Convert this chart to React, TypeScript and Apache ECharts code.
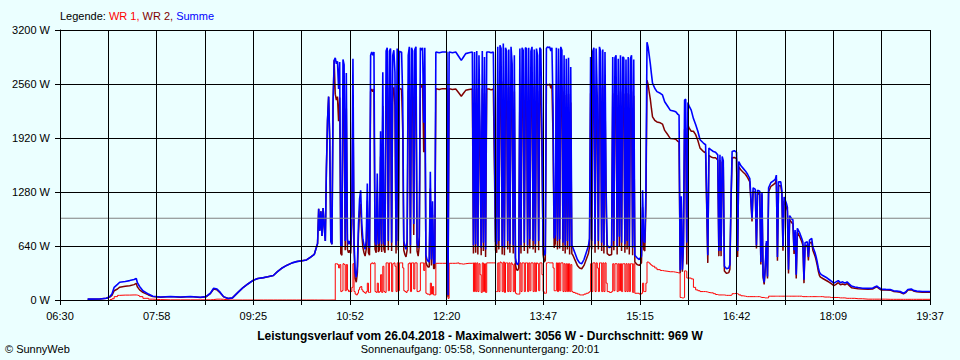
import React, { useEffect, useRef } from "react";
import * as echarts from "echarts";

// ---------- data ----------
const X_LABELS = ["06:30", "07:58", "09:25", "10:52", "12:20", "13:47", "15:15", "16:42", "18:09", "19:37"];
const Y_MAX = 3200;
const Y_STEP = 640;
const START_MIN = 390; // 06:30
const END_MIN = 1177; // 19:37
const TICK_COUNT = 18;
const DATE = "26.04.2018";
const MAX_W = 3056;
const AVG_W = 969;
const SUNRISE = "05:58";
const SUNSET = "20:01";

// minute of day
const TIME_MIN: number[] = [
  415,426,432,435,437,439,442,444,449,453,
  457,459,460,462,465,470,474,481,490,499,
  508,517,522,526,529,532,535,538,542,546,
  551,555,560,565,569,574,578,583,587,591,
  595,600,604,609,613,617,620,623,
  624,625,626,627,628,629,630,631,632,633,
  634,635,636,637,638,639,640,641,642,643,
  644,645,646,647,648,649,650,651,652,653,
  654,655,656,657,658,659,660,661,662,663,
  664,665,666,667,668,669,670,671,672,673,
  674,675,676,677,678,679,680,681,682,683,
  684,685,686,687,688,689,690,691,692,693,
  694,695,696,697,698,699,700,701,702,703,
  704,705,706,707,708,709,710,711,712,713,
  714,715,716,717,718,719,720,721,722,723,
  724,725,726,727,728,729,
  730,733,736,740,741,742,745,748,751,753,
  755,757,760,763,
  764,765,766,767,768,769,770,771,772,773,
  774,775,776,778,780,782,784,785,786,787,
  788,789,790,791,792,793,794,795,796,797,
  798,799,800,801,802,803,804,805,806,807,
  808,809,810,811,812,813,814,815,816,817,
  818,819,820,821,822,823,824,825,826,827,
  828,829,
  830,831,832,833,834,835,836,837,838,839,
  840,841,842,843,844,845,846,847,848,849,
  850,851,852,853,854,856,858,860,862,864,
  866,868,869,870,871,872,873,874,875,876,
  877,878,879,880,881,882,883,884,885,887,
  889,890,891,892,893,894,895,896,897,898,
  899,900,901,902,903,904,905,906,907,908,
  909,910,912,914,916,917,918,919,920,921,
  922,923,924,925,926,928,930,933,935,937,
  940,942,945,947,949,950,951,952,953,954,
  955,956,957,958,959,961,963,965,967,969,
  972,974,976,977,979,981,983,985,986,987,
  988,989,990,991,993,995,996,997,998,1000,
  1002,1003,1004,1006,1008,1010,1012,1014,1016,1017,
  1019,1020,1021,1023,1024,1025,1026,1027,1028,1029,
  1030,1031,1033,1035,1037,1038,1039,1040,1042,1043,
  1044,1045,1047,1048,1049,1050,1052,1053,1054,1055,
  1056,1057,1059,1061,1062,1063,1064,1066,1067,1068,
  1070,1071,1073,1074,1075,1076,1077,1078,1080,1082,
  1084,1086,1088,1090,1092,1094,1096,1098,1100,1102,
  1104,1106,1109,1112,1116,1121,1125,1127,1129,1131,
  1133,1137,1141,1144,1147,1150,1153,1155,1157,1160,
  1162,1165,1170,1177,
];

const WR1_W: (number | null)[] = [
  null,null,null,5,15,40,55,58,58,60,
  60,58,50,40,20,10,5,2,2,2,
  2,2,2,5,10,10,8,3,0,0,
  0,0,0,0,0,0,0,0,0,0,
  0,0,0,0,0,0,0,0,
  0,0,0,0,0,0,0,0,0,0,
  0,0,0,0,0,430,430,420,380,420,
  100,110,430,420,110,420,120,100,110,100,
  150,430,100,70,60,80,120,150,160,120,
  100,90,80,100,200,90,90,430,440,430,
  440,100,90,200,90,100,300,90,400,100,
  90,440,440,110,440,440,100,430,440,400,
  100,440,110,440,440,440,380,110,100,90,
  110,430,440,100,440,440,130,440,440,100,
  100,110,440,440,440,350,440,80,70,70,
  60,200,70,160,60,60,
  435,435,435,435,20,435,435,440,430,425,
  430,435,435,440,
  100,440,100,440,100,430,300,90,440,100,
  430,90,440,440,440,440,100,100,440,100,
  450,440,100,450,90,440,440,100,440,100,
  440,420,100,430,80,70,70,70,440,100,
  440,440,100,440,440,100,440,110,440,440,
  100,440,100,440,430,110,440,440,300,100,
  80,80,
  440,445,440,440,440,440,380,110,110,440,
  100,440,110,440,440,100,430,100,430,100,
  430,100,420,100,90,80,70,60,60,70,
  80,90,100,430,100,440,440,100,440,380,
  100,440,440,100,440,100,440,200,100,90,
  100,430,110,430,430,100,430,110,430,100,
  430,430,100,430,100,430,100,430,430,90,
  430,80,80,70,80,200,100,100,200,450,
  445,435,420,410,400,380,360,350,345,340,
  335,335,330,325,320,320,30,25,25,30,
  345,340,260,260,260,250,150,120,110,100,
  100,95,90,85,85,75,65,60,60,60,
  60,60,60,55,55,55,55,60,75,80,
  75,70,60,50,45,40,40,40,40,40,
  40,40,40,35,30,30,30,25,25,25,
  25,45,45,45,45,45,45,45,45,45,
  45,45,45,45,45,45,45,45,45,45,
  45,45,45,40,40,40,40,40,40,40,
  40,40,40,40,40,40,40,40,35,35,
  35,30,30,30,30,25,25,25,20,20,
  20,20,15,15,10,10,10,10,10,10,
  10,8,8,8,8,8,8,8,8,8,
  8,8,8,8,
];

const WR2_W: number[] = [
  10,12,20,35,55,110,130,152,162,170,
  182,197,155,120,90,60,40,33,40,33,
  40,30,38,75,130,120,82,37,18,25,
  90,140,190,235,255,265,275,290,340,380,
  410,440,455,465,475,510,540,670,
  1080,820,1050,760,1090,870,700,1560,2130,2410,
  1900,700,660,2330,2840,2440,2370,2410,2120,2400,
  550,530,2420,2370,590,2270,600,560,590,550,
  900,2430,600,260,210,320,780,1050,1140,780,
  620,560,520,600,1180,560,530,2470,2500,2470,
  2500,600,560,1300,570,600,1700,570,2300,600,
  560,2510,2550,590,2510,2540,580,2470,2520,2300,
  550,2540,590,2510,2500,2500,2020,590,540,510,
  590,2470,2560,550,2550,2510,770,2530,2560,580,
  520,640,2550,2520,2550,1750,2550,450,410,390,
  390,1320,410,1010,370,380,
  2505,2495,2505,2505,40,2505,2495,2500,2450,2415,
  2450,2485,2495,2500,
  550,2500,560,2510,540,2470,1700,530,2510,580,
  2450,510,2500,2500,2490,2500,590,560,2560,600,
  2570,2540,540,2590,530,2550,2510,600,2530,560,
  2560,2380,550,2470,420,360,350,380,2540,550,
  2550,2520,580,2550,2540,550,2550,610,2510,2560,
  600,2530,560,2540,2470,590,2550,2530,1700,540,
  450,470,
  2540,2555,2550,2560,2510,2550,1920,620,670,2550,
  600,2540,610,2560,2520,580,2470,550,2430,600,
  2440,540,2340,550,530,470,410,380,370,410,
  480,550,630,2450,600,2510,2550,560,2540,2020,
  600,2560,2510,580,2530,550,2500,1100,550,530,
  540,2450,590,2440,2470,540,2430,640,2470,580,
  2450,2440,560,2420,600,2450,540,2430,2470,530,
  2420,450,420,410,440,1100,600,580,1080,2606,
  2555,2465,2380,2270,2170,2130,2110,2100,2085,2010,
  1955,1915,1910,1905,1880,1870,320,1205,335,650,
  2025,2040,420,2080,2040,2000,2000,1960,1890,1800,
  1760,1745,440,1715,1695,1685,1685,1660,520,1660,
  520,1640,1590,345,315,325,365,1140,1685,1690,
  1675,510,1580,1540,1515,1490,1450,1400,930,1290,
  1270,610,1260,1255,420,1250,270,185,375,675,
  255,1285,1345,1365,1385,1435,465,1355,1355,1255,
  585,1175,1105,1055,315,955,915,905,545,785,
  255,805,755,690,650,200,640,650,470,670,
  690,590,520,470,410,340,290,270,255,240,
  225,210,190,170,185,205,180,190,180,195,
  170,145,140,133,130,128,130,145,155,135,
  118,118,117,102,97,92,72,87,117,122,
  107,97,92,92,
];

const SUMME_W: number[] = [
  10,12,20,40,70,150,185,210,220,230,
  242,255,205,160,110,70,45,35,42,35,
  42,32,40,80,140,130,90,40,18,25,
  90,140,190,235,255,265,275,290,340,380,
  410,440,455,465,475,510,540,670,
  1080,820,1050,760,1090,870,700,1560,2130,2410,
  1900,700,660,2330,2840,2870,2800,2830,2500,2820,
  650,640,2850,2790,700,2690,720,660,700,650,
  1050,2860,700,330,270,400,900,1200,1300,900,
  720,650,600,700,1380,650,620,2900,2940,2900,
  2940,700,650,1500,660,700,2000,660,2700,700,
  650,2950,2990,700,2950,2980,680,2900,2960,2700,
  650,2980,700,2950,2940,2940,2400,700,640,600,
  700,2900,3000,650,2990,2950,900,2970,3000,680,
  620,750,2990,2960,2990,2100,2990,530,480,460,
  450,1520,480,1170,430,440,
  2940,2930,2940,2940,60,2940,2930,2940,2880,2840,
  2880,2920,2930,2940,
  650,2940,660,2950,640,2900,2000,620,2950,680,
  2880,600,2940,2940,2930,2940,690,660,3000,700,
  3020,2980,640,3040,620,2990,2950,700,2970,660,
  3000,2800,650,2900,500,430,420,450,2980,650,
  2990,2960,680,2990,2980,650,2990,720,2950,3000,
  700,2970,660,2980,2900,700,2990,2970,2000,640,
  530,550,
  2980,3000,2990,3000,2950,2990,2300,730,780,2990,
  700,2980,720,3000,2960,680,2900,650,2860,700,
  2870,640,2760,650,620,550,480,440,430,480,
  560,640,730,2880,700,2950,2990,660,2980,2400,
  700,3000,2950,680,2970,650,2940,1300,650,620,
  640,2880,700,2870,2900,640,2860,750,2900,680,
  2880,2870,660,2850,700,2880,640,2860,2900,620,
  2850,530,500,480,520,1300,700,680,1280,3056,
  3000,2900,2800,2680,2570,2510,2470,2450,2430,2350,
  2290,2250,2240,2230,2200,2190,350,1230,360,680,
  2370,2380,680,2340,2300,2250,2150,2080,2000,1900,
  1860,1840,530,1800,1780,1760,1750,1720,580,1720,
  580,1700,1650,400,370,380,420,1200,1760,1770,
  1750,580,1640,1590,1560,1530,1490,1440,970,1330,
  1310,650,1300,1290,450,1280,300,210,400,700,
  280,1330,1390,1410,1430,1480,510,1400,1400,1300,
  630,1220,1150,1100,360,1000,960,950,590,830,
  300,850,800,730,690,240,680,690,510,710,
  730,630,560,510,450,380,330,310,290,275,
  260,240,220,200,215,230,205,215,200,215,
  190,165,155,148,140,138,140,155,165,145,
  128,126,125,110,105,100,80,95,125,130,
  115,105,100,100,
];

// ---------- styling ----------
const BG = "#EBFFFF";
const FONT = '"Liberation Sans", Arial, sans-serif';
const C_WR1 = "#FF0000";
const C_WR2 = "#800000";
const C_SUM = "#0000FF";

const toAxis = (m: number) => ((m - START_MIN) / (END_MIN - START_MIN)) * TICK_COUNT;
const pairs = (vals: (number | null)[]) =>
  TIME_MIN.map((t, i) => [toAxis(t), vals[i] == null ? "-" : vals[i]]);

export default function App() {
  const ref = useRef<HTMLDivElement>(null);

  useEffect(() => {
    if (!ref.current) return;
    const chart = echarts.init(ref.current, null, { renderer: "svg" });
    const lineBase = {
      type: "line",
      symbol: "none",
      showSymbol: false,
      silent: true,
      connectNulls: false,
    };
    chart.setOption({
      animation: false,
      backgroundColor: BG,
      grid: { left: 60, right: 30, top: 30, bottom: 60, containLabel: false },
      xAxis: {
        type: "value",
        min: 0,
        max: TICK_COUNT,
        interval: 1,
        z: 10,
        axisLine: { show: true, lineStyle: { color: "#000", width: 1 } },
        axisTick: { show: true, length: 5, lineStyle: { color: "#000" } },
        splitLine: { show: true, lineStyle: { color: "#000", width: 1 } },
        axisLabel: {
          show: true,
          margin: 10,
          color: "#000",
          fontSize: 11,
          fontFamily: FONT,
          showMinLabel: true,
          showMaxLabel: true,
          formatter: (v: number) => {
            const i = Math.round(v);
            return i % 2 === 0 ? X_LABELS[i / 2] : "";
          },
        },
      },
      yAxis: {
        type: "value",
        min: 0,
        max: Y_MAX,
        interval: Y_STEP,
        z: 10,
        axisLine: { show: true, lineStyle: { color: "#000", width: 1 } },
        axisTick: { show: true, length: 5, lineStyle: { color: "#000" } },
        splitLine: { show: true, lineStyle: { color: "#000", width: 1 } },
        axisLabel: {
          margin: 10,
          color: "#000",
          fontSize: 11,
          fontFamily: FONT,
          formatter: (v: number) => `${v} W`,
        },
      },
      series: [
        { ...lineBase, name: "WR 1", step: "end", data: pairs(WR1_W), z: 2, lineStyle: { color: C_WR1, width: 1 }, itemStyle: { color: C_WR1 } },
        { ...lineBase, name: "WR 2", data: pairs(WR2_W), z: 3, lineStyle: { color: C_WR2, width: 1.5 }, itemStyle: { color: C_WR2 } },
        { ...lineBase, name: "Summe", data: pairs(SUMME_W), z: 4, lineStyle: { color: C_SUM, width: 1.6 }, itemStyle: { color: C_SUM } },
        {
          type: "line",
          name: "Durchschnitt",
          symbol: "none",
          silent: true,
          z: 5,
          data: [[0, AVG_W], [TICK_COUNT, AVG_W]],
          lineStyle: { color: "#808080", width: 1 },
        },
      ],
      graphic: [
        {
          type: "text",
          left: 60,
          top: 10,
          style: {
            text: "{k|Legende:} {a|WR 1,} {b|WR 2,} {c|Summe}",
            font: `11px ${FONT}`,
            rich: {
              k: { fill: "#000", font: `11px ${FONT}` },
              a: { fill: C_WR1, font: `11px ${FONT}` },
              b: { fill: C_WR2, font: `11px ${FONT}` },
              c: { fill: C_SUM, font: `11px ${FONT}` },
            },
          },
        },
        {
          type: "text",
          left: "center",
          top: 330,
          style: {
            text: `Leistungsverlauf vom ${DATE} - Maximalwert: ${MAX_W} W - Durchschnitt: ${AVG_W} W`,
            font: `bold 12px ${FONT}`,
            fill: "#000",
          },
        },
        {
          type: "text",
          left: "center",
          top: 343,
          style: {
            text: `Sonnenaufgang: ${SUNRISE}, Sonnenuntergang: ${SUNSET}`,
            font: `11px ${FONT}`,
            fill: "#000",
          },
        },
        {
          type: "text",
          left: 5,
          top: 343,
          style: { text: "© SunnyWeb", font: `11px ${FONT}`, fill: "#000" },
        },
      ],
    });
    return () => chart.dispose();
  }, []);

  return (
    <div
      ref={ref}
      style={{ position: "absolute", left: 0, top: 0, width: 960, height: 360, background: BG }}
    />
  );
}
